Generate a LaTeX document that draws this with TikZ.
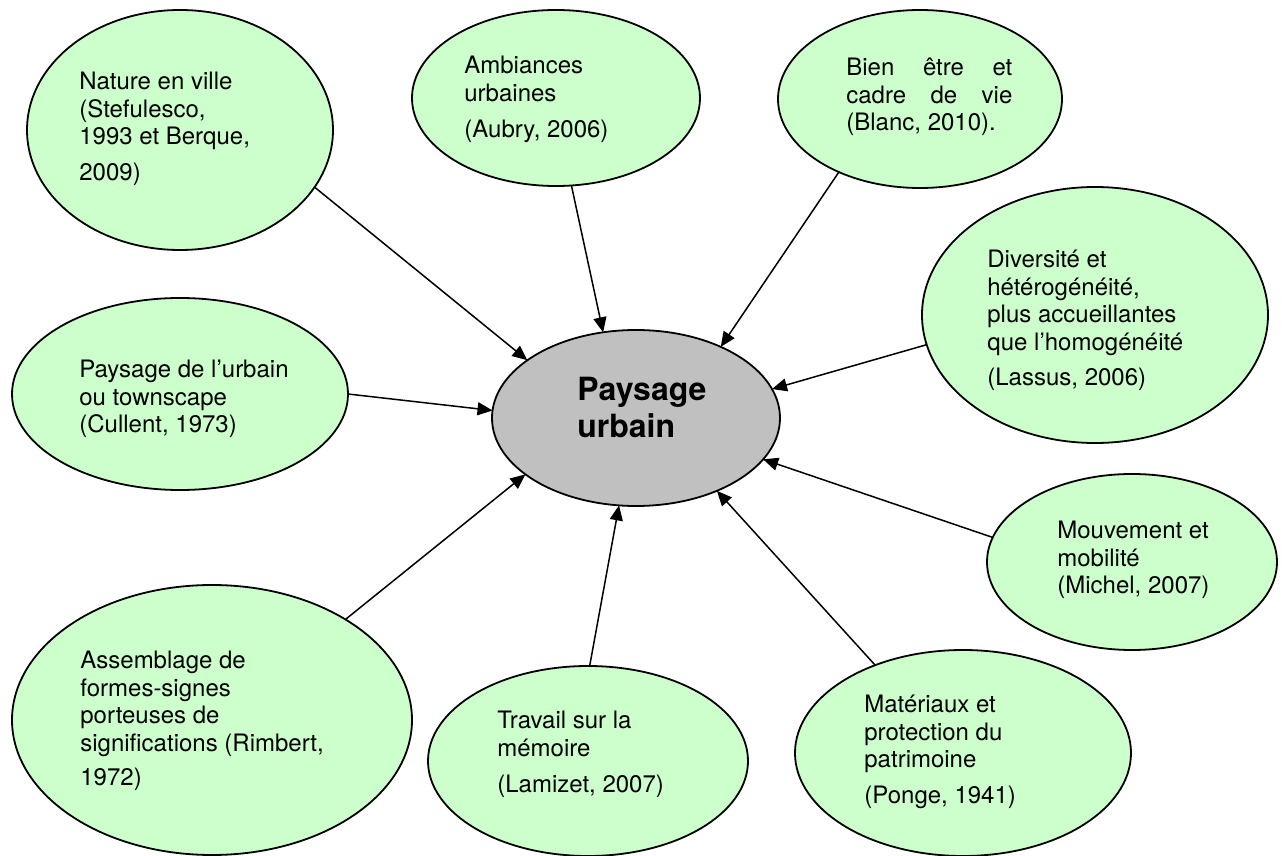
\documentclass[tikz,border=0pt]{standalone}
\usepackage{fontspec}
\setmainfont{TeX Gyre Heros}
\usetikzlibrary{shapes.geometric,arrows.meta}
\definecolor{bubblegreen}{HTML}{CCFFCC}
\definecolor{hubgrey}{HTML}{C0C0C0}
\newcommand{\spreadline}[1]{\makebox[83pt][s]{#1}}

\begin{document}
\begin{tikzpicture}[x=0.5pt,y=0.5pt,yscale=-1,
  bubble/.style={ellipse,draw,line width=0.9pt,fill=bubblegreen,inner sep=0pt,outer sep=0pt},
  bubbletext/.style={anchor=north west,align=left,inner sep=0pt,font=\fontsize{12}{13.7}\selectfont,execute at begin node=\strut},
  link/.style={line width=0.75pt,-{Triangle[length=7.5pt,width=6.5pt]}}]
\useasboundingbox (0,0) rectangle (1282,856);

%Shape: Ellipse (centre)
\node[bubble,fill=hubgrey,minimum width=144pt,minimum height=88pt] (pu) at (636,418) {};
%Shape: Ellipse
\node[bubble,minimum width=153pt,minimum height=120pt] (nat) at (180,130) {};
%Shape: Ellipse
\node[bubble,minimum width=144pt,minimum height=88pt] (amb) at (556,98) {};
%Shape: Ellipse
\node[bubble,minimum width=142pt,minimum height=89pt] (bien) at (920,99) {};
%Shape: Ellipse
\node[bubble,minimum width=173pt,minimum height=128pt] (div) at (1095,315) {};
%Shape: Ellipse
\node[bubble,minimum width=168pt,minimum height=96pt] (pdu) at (180,394) {};
%Shape: Ellipse
\node[bubble,minimum width=145pt,minimum height=88pt] (mob) at (1132,562) {};
%Shape: Ellipse
\node[bubble,minimum width=200pt,minimum height=135pt] (ass) at (212,720) {};
%Shape: Ellipse
\node[bubble,minimum width=160pt,minimum height=95pt] (mem) at (588,761) {};
%Shape: Ellipse
\node[bubble,minimum width=168pt,minimum height=103pt] (mat) at (963,753) {};

%Straight Lines
\draw[link] (nat.-23) -- (pu.152);
\draw[link] (amb.-80) -- (pu.111);
\draw[link] (bien.222) -- (pu.40);
\draw[link] (div.190) -- (pu.12);
\draw[link] (pdu.0) -- (pu.177);
\draw[link] (mob.170) -- (pu.-18);
\draw[link] (ass.37) -- (pu.207);
\draw[link] (mem.89) -- (pu.259);
\draw[link] (mat.135) -- (pu.-42);

% Text Node
\node[bubbletext,font=\fontsize{16}{18.5}\selectfont\bfseries] (puT) at (577,377) {Paysage\\urbain};
% Text Node
\node[bubbletext] (natT) at (79,72) {Nature en ville\\(Stefulesco,\\1993 et Berque,\\[4pt]2009)};
% Text Node
\node[bubbletext] (ambT) at (464,56) {Ambiances\\urbaines\\[4.5pt](Aubry, 2006)};
% Text Node
\node[bubbletext] (bienT) at (846,58) {\spreadline{Bien être et}\\\spreadline{cadre de vie}\\(Blanc, 2010).};
% Text Node
\node[bubbletext] (divT) at (987,250) {Diversité et\\hétérogénéité,\\plus accueillantes\\que l’homogénéité\\[4pt](Lassus, 2006)};
% Text Node
\node[bubbletext] (pduT) at (79,360) {Paysage de l’urbain\\ou townscape\\(Cullent, 1973)};
% Text Node
\node[bubbletext] (mobT) at (1057,521) {Mouvement et\\mobilité\\(Michel, 2007)};
% Text Node
\node[bubbletext] (assT) at (80,651) {Assemblage de\\formes-signes\\porteuses de\\significations (Rimbert,\\[3.5pt]1972)};
% Text Node
\node[bubbletext] (memT) at (497,711) {Travail sur la\\mémoire\\[4.5pt](Lamizet, 2007)};
% Text Node
\node[bubbletext] (matT) at (864,695) {Matériaux et\\protection du\\patrimoine\\[4pt](Ponge, 1941)};

\end{tikzpicture}
\end{document}
